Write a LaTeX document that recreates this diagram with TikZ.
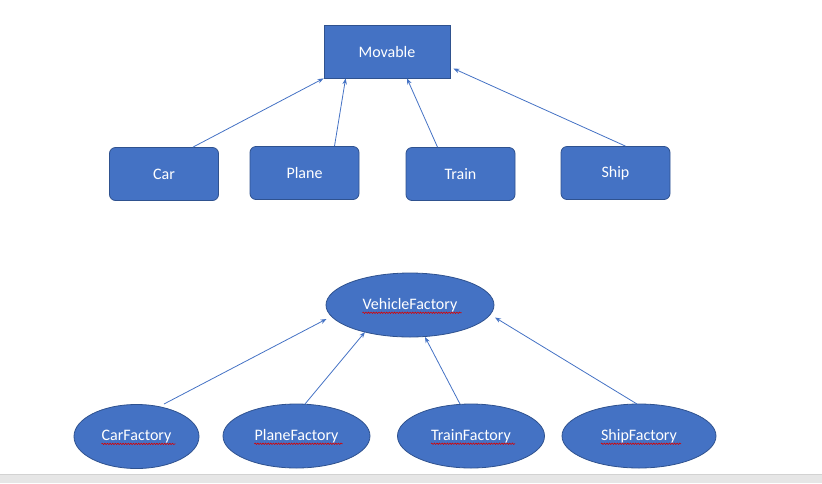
\documentclass[tikz,border=0pt]{standalone}
\usepackage{fontspec}
\setmainfont{Carlito}
\usetikzlibrary{arrows.meta, shapes.geometric, decorations.pathmorphing}

\definecolor{officeblue}{HTML}{4472C4}
\definecolor{officeedge}{HTML}{2F528F}
\definecolor{barfill}{HTML}{E6E6E6}
\definecolor{barline}{HTML}{D2D2D2}

\tikzset{
    klass/.style={draw=officeedge, fill=officeblue, text=white, line width=0.8pt,
        inner sep=0pt, minimum width=109pt, minimum height=53pt, rounded corners=6pt,
        font=\fontsize{16}{18}\selectfont},
    factory/.style={ellipse, draw=officeedge, fill=officeblue, line width=0.8pt,
        inner sep=0pt, minimum height=64pt},
    lbl/.style={text=white, inner sep=0pt, font=\fontsize{16}{18}\selectfont},
    inherit/.style={draw=officeblue, line width=0.8pt, -{Stealth[length=6pt,width=4.5pt]}},
    squig/.style={draw=red!85!black, line width=0.6pt,
        decorate, decoration={snake, amplitude=0.7pt, segment length=2.6pt}}
}

\begin{document}
\begin{tikzpicture}[x=1pt, y=-1pt]
    \useasboundingbox (0,0) rectangle (822,483);
    % Bottom bar
    \fill[barfill] (0,474) rectangle (822,483);
    \draw[barline, line width=1pt] (0,474.5) -- (822,474.5);

    % Classes
    \node[klass, rounded corners=0pt, minimum width=126pt] (movable) at (387,51.5) {Movable};
    \node[klass] (car) at (164,174) {Car};
    \node[klass] (plane) at (304.5,173) {Plane};
    \node[klass] (train) at (460.5,174) {Train};
    \node[klass] (ship) at (615.5,173) {Ship};

    \draw[inherit] ([xshift=29pt]car.north) -- (movable.south west);
    \draw[inherit] ([xshift=30pt]plane.north) -- ([xshift=22pt]movable.south west);
    \draw[inherit] ([xshift=-23pt]train.north) -- ([xshift=20pt]movable.south);
    \draw[inherit] ([xshift=10pt]ship.north) -- ([xshift=3pt,yshift=-17pt]movable.east);

    % Factories
    \node[factory, minimum width=168pt] (vf) at (410,305) {};
    \node[factory, minimum width=125pt] (carf) at (136.5,436.5) {};
    \node[factory, minimum width=147pt] (planef) at (296.5,436) {};
    \node[factory, minimum width=147pt] (trainf) at (471,436) {};
    \node[factory, minimum width=154pt] (shipf) at (639,436) {};

    \node[lbl] (vft) at (vf) {VehicleFactory};
    \node[lbl] (carft) at (carf) {CarFactory};
    \node[lbl] (planeft) at (planef) {PlaneFactory};
    \node[lbl] (trainft) at (trainf) {TrainFactory};
    \node[lbl] (shipft) at (shipf) {ShipFactory};

    % Spell-check underlines
    \foreach \t in {vft, carft, planeft, trainft, shipft}
        \draw[squig] ([yshift=-3.5pt]\t.base west) -- ([xshift=4pt,yshift=-3.5pt]\t.base east);

    \draw[inherit] ([shift={(27.5,-32.5)}]carf.center) -- ([shift={(-83.5,14)}]vf.center);
    \draw[inherit] ([shift={(8.5,-32)}]planef.center) -- ([shift={(-45,27)}]vf.center);
    \draw[inherit] ([shift={(-11,-32)}]trainf.center) -- ([shift={(15,32)}]vf.center);
    \draw[inherit] ([shift={(-2,-32)}]shipf.center) -- ([shift={(85,12.5)}]vf.center);
\end{tikzpicture}
\end{document}
